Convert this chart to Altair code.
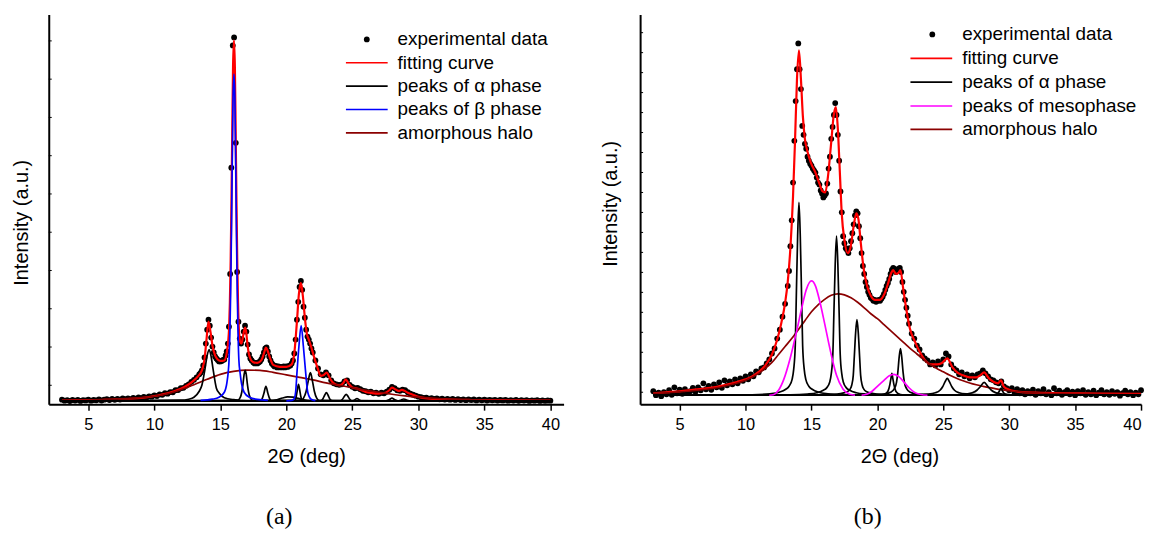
import altair as alt
import pandas as pd

FONT = "Liberation Sans"
X_TICKS = [5, 10, 15, 20, 25, 30, 35, 40]

# ======================= PANEL (a) =======================
fit_a_x = [3, 4, 5, 6, 7, 8, 9, 10, 10.5, 11, 11.5, 12,
           12.5, 13, 13.3, 13.6, 13.8, 13.95, 14.1, 14.25, 14.4, 14.6, 14.8, 15.0,
           15.3, 15.5, 15.6, 15.66, 15.72, 15.78, 15.84, 15.9, 15.96, 16.03, 16.1, 16.16,
           16.22, 16.28, 16.34, 16.4, 16.5, 16.6, 16.7, 16.8, 16.88, 16.96, 17.04, 17.14,
           17.26, 17.45, 17.8, 18.1, 18.3, 18.45, 18.6, 18.8, 19.0, 19.5, 20.0, 20.4,
           20.6, 20.8, 20.95, 21.1, 21.25, 21.4, 21.55, 21.7, 21.85, 22.0, 22.2, 22.4,
           22.6, 22.8, 23.05, 23.3, 23.5, 23.8, 24.05, 24.3, 24.5, 24.7, 25.0, 25.35,
           25.6, 26.0, 26.5, 27.0, 27.5, 27.8, 28.0, 28.25, 28.5, 28.75, 28.95, 29.2,
           29.5, 30.0, 30.7, 32, 34, 36, 38, 40]
fit_a_y = [0.5, 0.8, 1.0, 1.2, 1.5, 2.2, 3.2, 5.2, 6.5, 8, 10, 12.5,
           16, 21, 25, 31, 42, 62, 80, 70, 56, 46, 42, 40.5,
           41, 50, 61, 73, 99, 141, 201, 271, 336, 363, 336, 271,
           201, 141, 99, 73, 60, 58, 64, 71, 74, 69, 59, 49,
           43, 39.5, 38.5, 41, 48, 54, 50, 42, 36.5, 34.5, 34.5, 37,
           48, 80, 108, 119, 106, 84, 68, 62, 56, 49, 40, 32,
           25.5, 26, 28.7, 23, 19, 16.5, 16, 18, 22, 18, 13.8, 12.8,
           11.5, 9.3, 8.2, 7.7, 8.5, 11, 13.7, 12, 10.3, 11.3, 10.5, 8.5,
           7, 4.3, 2.7, 1.8, 1.2, 1.0, 0.8, 0.6]

halo_a_x = [3, 5, 7, 9, 10, 11, 12, 13, 14, 15, 16, 17, 18, 19, 20, 21, 22, 23, 24, 25,
            26, 27, 28, 29, 30, 31, 32, 34, 37, 40]
halo_a_y = [0.5, 1, 2, 3.5, 5, 7.5, 11.5, 16.5, 22, 27, 30, 31.3, 31, 29, 26.5, 24, 21.5, 18.5, 16, 13.5,
            11, 9, 7, 5.3, 4, 3, 2.2, 1.3, 0.8, 0.5]

# peaks of alpha phase (a)
alpha_a = [
    ([3, 12.0, 12.6, 13.0, 13.4, 13.6, 13.83, 14.0, 14.15, 14.3, 14.45, 14.7, 14.92, 15.3, 16.0, 17.0, 40],
     [0, 1, 2, 4, 10, 16, 32, 46, 52, 45, 32, 13, 8, 3.5, 1.5, 0.6, 0]),
    ([3, 16.3, 16.5, 16.62, 16.72, 16.8, 16.88, 16.96, 17.04, 17.14, 17.26, 17.45, 40],
     [0, 0.8, 3.5, 9, 18, 27, 31, 27, 18, 9, 3.5, 0.8, 0]),
    ([3, 18.0, 18.15, 18.3, 18.45, 18.6, 18.75, 18.9, 40],
     [0, 0.3, 2, 8, 15, 8, 2, 0.3, 0]),
    ([3, 18.8, 19.3, 19.7, 20.1, 20.5, 20.9, 21.3, 21.8, 40],
     [0, 0.3, 1.5, 3.2, 4.3, 4, 2.8, 1.3, 0.3, 0]),
    ([3, 20.65, 20.75, 20.84, 20.92, 21.0, 21.09, 21.2, 40],
     [0, 0.5, 5, 12, 17, 12, 5, 0.5, 0]),
    ([3, 21.1, 21.3, 21.5, 21.65, 21.82, 21.98, 22.12, 22.3, 22.5, 40],
     [0, 0.5, 3, 10, 20, 28.7, 20, 10, 3, 0.5, 0]),
    ([3, 22.6, 22.75, 22.9, 23.03, 23.16, 23.3, 23.5, 40],
     [0, 0.3, 2, 6, 8.7, 6, 2, 0.3, 0]),
    ([3, 24.1, 24.25, 24.4, 24.53, 24.66, 24.8, 24.95, 40],
     [0, 0.3, 2, 5, 7, 5, 2, 0.3, 0]),
    ([3, 25.0, 25.2, 25.35, 25.5, 25.7, 40],
     [0, 0.2, 1.5, 2.7, 1.5, 0.2, 0]),
    ([3, 27.5, 27.8, 28.0, 28.2, 28.5, 40],
     [0, 0.2, 1.5, 3, 1.5, 0.2, 0]),
    ([3, 28.4, 28.7, 28.9, 29.1, 29.4, 40],
     [0, 0.2, 1.2, 2.2, 1.2, 0.2, 0]),
]

# peaks of beta phase (a)
beta_a = [
    ([13.5, 14.4, 14.9, 15.3, 15.5, 15.6, 15.66, 15.72, 15.78, 15.84, 15.9, 15.96, 16.03,
      16.1, 16.16, 16.22, 16.28, 16.34, 16.4, 16.5, 16.6, 16.8, 17.2, 17.8, 18.6],
     [0.8, 2, 4, 9, 19, 30, 42, 68, 110, 170, 240, 305, 329,
      305, 240, 170, 110, 68, 42, 28, 18, 9, 4, 1.8, 0.8]),
    ([20.0, 20.4, 20.57, 20.7, 20.82, 20.95, 21.12, 21.29, 21.44, 21.62, 21.87, 22.2],
     [0.3, 0.8, 2, 9, 32, 55, 76, 55, 32, 9, 2, 0.5]),
]

# experimental data (a)
exp_a_x1 = [3.0, 3.2, 3.4, 3.6, 3.8, 4.0, 4.2, 4.4, 4.6, 4.8,
            5.0, 5.2, 5.4, 5.6, 5.8, 6.0, 6.2, 6.4, 6.6, 6.8,
            7.0, 7.2, 7.4, 7.6, 7.8, 8.0, 8.2, 8.4, 8.6, 8.8,
            9.0, 9.2, 9.4, 9.6, 9.8, 10.0, 10.2, 10.4, 10.6, 10.8,
            11.0, 11.2, 11.4, 11.6, 11.8, 12.0, 12.2, 12.4, 12.6, 12.8,
            13.0, 13.2, 13.4]
exp_a_y1 = [1.5, 0.5, 1.0, 0.2, 1.2, 0.6, 1.4, 0.3, 1.1, 0.8,
            1.6, 0.5, 1.2, 0.9, 1.8, 0.7, 1.5, 2.0, 1.1, 2.2,
            1.4, 2.4, 1.6, 2.8, 2.0, 2.9, 2.1, 3.2, 2.6, 3.8,
            3.0, 4.2, 3.6, 4.8, 4.5, 5.8, 5.2, 6.8, 6.4, 8.0,
            7.6, 9.2, 9.0, 11.0, 11.2, 13.0, 13.5, 15.5, 17.0, 19.5,
            21.5, 24.0, 27.0]
exp_a_x2 = [13.5, 13.6, 13.7, 13.8, 13.9, 14.0, 14.1, 14.2, 14.3, 14.4, 14.5, 14.6, 14.7, 14.8, 14.9,
            15.0, 15.1, 15.2, 15.3, 15.4, 15.48, 15.57, 15.65, 15.74, 15.83, 15.94, 16.04, 16.17,
            16.27, 16.37, 16.47, 16.57, 16.67, 16.77, 16.87, 16.97, 17.07, 17.17, 17.27, 17.37]
exp_a_y2 = [28.5, 31, 36, 44, 58, 72, 82, 76, 64, 55, 49, 45, 43, 41.5, 40,
            40, 40.5, 41.5, 42, 46, 50, 58, 75, 128, 235, 358, 366, 260,
            130, 80, 63, 58, 62, 70, 76, 70, 57, 47, 43, 41]
exp_a_x3 = [17.5, 17.6, 17.7, 17.8, 17.9, 18.0, 18.1, 18.2, 18.3, 18.4,
            18.5, 18.6, 18.7, 18.8, 18.9, 19.0, 19.1, 19.2, 19.3, 19.4,
            19.5, 19.6, 19.7, 19.8, 19.9, 20.0, 20.1, 20.2, 20.3, 20.4,
            20.5, 20.6, 20.7, 20.8, 20.9, 21.0, 21.1, 21.2, 21.3, 21.4,
            21.5, 21.6, 21.7, 21.8, 21.9, 22.0]
exp_a_y3 = [39, 38, 38.5, 38, 39, 40, 42, 45, 49, 53,
            54, 50, 45, 41, 38, 36.5, 35, 35.5, 34, 35,
            34, 34.5, 34, 35, 34, 35, 34.5, 35.5, 36, 38,
            41, 48, 62, 82, 100, 115, 121, 112, 95, 84,
            72, 65, 62, 58, 53, 49]
exp_a_x4 = [22.2, 22.4, 22.6, 22.8, 23.0, 23.2, 23.4, 23.6, 23.8, 24.0,
            24.2, 24.4, 24.6, 24.8, 25.0, 25.2, 25.4, 25.6, 25.8, 26.0,
            26.2, 26.4, 26.6, 26.8, 27.0, 27.2, 27.4, 27.6, 27.8, 28.0,
            28.2, 28.4, 28.6, 28.8, 29.0, 29.2, 29.4, 29.6, 29.8, 30.0,
            30.2, 30.4, 30.6, 30.8, 31.0, 31.2, 31.4, 31.6, 31.8, 32.0,
            32.2, 32.4, 32.6, 32.8, 33.0, 33.2, 33.4, 33.6, 33.8, 34.0,
            34.2, 34.4, 34.6, 34.8, 35.0, 35.2, 35.4, 35.6, 35.8, 36.0,
            36.2, 36.4, 36.6, 36.8, 37.0, 37.2, 37.4, 37.6, 37.8, 38.0,
            38.2, 38.4, 38.6, 38.8, 39.0, 39.2, 39.4, 39.6, 39.8, 40.0]
exp_a_y4 = [41, 33, 27, 26, 29, 26, 21, 18, 17, 16.5,
            17, 20, 21, 16.5, 14.5, 13, 13.5, 12, 10.5, 10,
            9, 9.5, 8, 8.5, 7.5, 8.5, 8, 9.5, 11.5, 14.5,
            13, 11, 10.5, 11.5, 11, 9, 7.5, 6.5, 5.5, 4.5,
            4.0, 3.2, 3.5, 2.6, 3.0, 2.2, 2.8, 1.9, 2.6, 1.6,
            2.4, 1.5, 2.2, 1.3, 2.0, 1.2, 1.9, 1.0, 1.8, 1.1,
            1.7, 0.8, 1.6, 0.9, 1.5, 0.7, 1.4, 0.9, 1.3, 0.6,
            1.2, 0.8, 1.3, 0.5, 1.1, 0.6, 1.2, 0.4, 1.0, 0.6,
            1.1, 0.3, 0.9, 0.5, 1.0, 0.3, 0.8, 0.4, 0.7, 0.5]

yticks_a = [16, 54.5, 93, 131.5, 170, 208.5, 247, 285.5, 324, 362.5]

# ======================= PANEL (b) =======================
fit_b_x = [3, 4, 5, 6, 7, 8, 9, 10, 10.5, 11, 11.5, 12,
           12.4, 12.7, 13.0, 13.2, 13.4, 13.6, 13.75, 13.9, 14.05, 14.2, 14.35, 14.5,
           14.7, 14.95, 15.3, 15.6, 15.85, 16.05, 16.25, 16.5, 16.7, 16.85, 17.0, 17.15,
           17.3, 17.5, 17.75, 17.95, 18.2, 18.4, 18.55, 18.75, 18.95, 19.2, 19.5, 19.8,
           20.2, 20.5, 20.8, 21.05, 21.2, 21.4, 21.6, 21.75, 21.95, 22.2, 22.45, 22.85,
           23.2, 23.7, 24.1, 24.5, 24.9, 25.3, 25.7, 26.1, 26.5, 27.0, 27.5, 27.8,
           28.1, 28.45, 28.8, 29.15, 29.37, 29.6, 30, 30.5, 31, 32, 34, 37,
           40]
fit_b_y = [2, 3, 4, 5.5, 7, 9, 12, 16, 19, 23.5, 30, 41,
           56, 72, 93, 114, 148, 200, 255, 318, 347, 318, 280, 258,
           245, 234, 224, 213, 205, 204, 220, 255, 283, 290, 268, 225,
           182, 156, 143, 148, 170, 183, 178, 152, 128, 111, 100, 96,
           96, 101, 112, 123, 126, 122, 123, 126, 108, 86, 68, 54,
           44, 34, 31, 31, 32.5, 37, 28, 22.5, 20, 18, 18, 20,
           23, 17, 13.5, 12, 15, 8.5, 5.5, 4, 3.2, 2.6, 2, 1.7,
           1.5]

halo_b_x = [3, 4, 5, 6, 7, 8, 9, 10,
            11, 11.5, 12, 12.5, 13, 13.5, 14, 14.5, 15, 15.5,
            16, 16.5, 17, 17.5, 18, 18.5, 19, 19.5, 20, 20.5,
            21, 21.5, 22, 22.5, 23, 23.5, 24, 24.5, 25, 25.5,
            26, 26.5, 27, 27.5, 28, 28.5, 29, 29.5, 30,
            31, 32, 34, 37, 40]
halo_b_y = [1.8, 2.5, 3.4, 4.5, 6, 8, 11, 15,
            22, 27, 33, 41, 49, 57, 66, 75, 84, 91,
            96.5, 100.5, 102, 101, 98, 93.5, 88, 82, 77, 71,
            65, 59, 53, 47, 41.5, 36, 31, 27, 23.5, 20,
            17, 14.5, 12.3, 10.5, 9, 7.6, 6.4, 5.4, 4.5,
            3.2, 2.4, 1.5, 1.0, 0.7]

# peaks of alpha phase (b)
alpha_b = [
    ([3, 10.5, 11.85, 12.55, 13.05, 13.3, 13.53, 13.65, 13.77, 13.85, 13.95, 14.05, 14.15, 14.25,
      14.33, 14.45, 14.57, 14.8, 15.05, 15.55, 16.25, 17.55, 40],
     [0, 0.5, 1.5, 3, 6, 9, 16, 26, 50, 100, 160, 194, 160, 100,
      50, 26, 16, 9, 6, 3, 1.5, 0.5, 0]),
    ([3, 13.4, 14.7, 15.4, 15.9, 16.15, 16.38, 16.5, 16.62, 16.7, 16.8, 16.9, 17.0, 17.1,
      17.18, 17.3, 17.42, 17.65, 17.9, 18.4, 19.1, 20.4, 40],
     [0, 0.4, 1.2, 2.5, 5, 7.4, 13, 21.5, 41, 82, 132, 160, 132, 82,
      41, 21.5, 13, 7.4, 5, 2.5, 1.2, 0.4, 0]),
    ([3, 14.95, 16.25, 16.95, 17.45, 17.7, 17.93, 18.05, 18.17, 18.25, 18.35, 18.45, 18.55, 18.65,
      18.73, 18.85, 18.97, 19.2, 19.45, 19.95, 20.65, 21.95, 40],
     [0, 0.2, 0.6, 1.1, 2.4, 3.5, 6.2, 10, 20, 39, 63, 76, 63, 39,
      20, 10, 6.2, 3.5, 2.4, 1.1, 0.6, 0.2, 0]),
    ([3, 20.3, 20.6, 20.8, 20.95, 21.03, 21.1, 21.17, 21.25, 21.4, 21.6, 21.9, 40],
     [0, 0.5, 1.5, 4, 11, 17, 22, 17, 11, 4, 1.5, 0.5, 0]),
    ([3, 19.5, 20.5, 21.0, 21.3, 21.45, 21.55, 21.65, 21.75, 21.85, 21.95, 22.05, 22.2, 22.5, 23.0, 24.0, 40],
     [0, 0.4, 1.2, 3, 7, 13, 23, 38, 47, 38, 23, 13, 7, 3, 1.2, 0.4, 0]),
    ([3, 22.5, 23.8, 24.4, 24.75, 24.95, 25.15, 25.3, 25.45, 25.65, 25.85, 26.2, 26.8, 28.0, 40],
     [0, 0.4, 1.2, 2.5, 5, 8.5, 14, 17, 14, 8.5, 5, 2.5, 1.2, 0.4, 0]),
    ([3, 25.5, 26.6, 27.2, 27.55, 27.8, 28.1, 28.4, 28.65, 29.0, 29.6, 30.7, 40],
     [0, 0.3, 1, 2.5, 5, 8.5, 13, 8.5, 5, 2.5, 1, 0.3, 0]),
    ([3, 28.8, 29.1, 29.25, 29.37, 29.5, 29.65, 30.0, 40],
     [0, 0.4, 1.5, 4, 7, 4, 1.5, 0.4, 0]),
]

# peaks of mesophase (b)
meso_b = [
    ([11.8, 12.1, 12.5, 12.9, 13.4, 13.9, 14.3, 14.6, 15.0, 15.3, 15.6, 16.0, 16.3, 16.6, 16.9, 17.4, 17.9, 18.3],
     [0, 0.5, 5, 16, 38, 66, 90, 106, 115, 110, 96, 72, 53, 35, 20, 6, 1, 0]),
    ([18.8, 19.2, 19.6, 20.0, 20.5, 20.9, 21.25, 21.6, 22.0, 22.4, 22.8, 23.3, 23.8],
     [0, 1, 4, 9, 15, 19.5, 21, 19, 13.5, 7.5, 3, 0.7, 0]),
]

# experimental data (b)
exp_b_x1 = [3.0, 3.2, 3.4, 3.6, 3.8, 4.0, 4.2, 4.4, 4.6, 4.8,
            5.0, 5.2, 5.4, 5.6, 5.8, 6.0, 6.2, 6.4, 6.6, 6.8,
            7.0, 7.2, 7.4, 7.6, 7.8, 8.0, 8.2, 8.4, 8.6, 8.8,
            9.0, 9.2, 9.4, 9.6, 9.8, 10.0, 10.2, 10.4, 10.6, 10.8,
            11.0, 11.2, 11.4, 11.6, 11.8, 12.0, 12.2, 12.4, 12.6, 12.8,
            13.0, 13.2]
exp_b_y1 = [4, 0, 2.5, -1, 3, 1, 5, 0.5, 8, 2,
            5.5, 1.5, 6, 3, 4, 7.5, 3.5, 8, 5, 12,
            6, 9.5, 5.5, 11, 8, 13, 7.5, 15, 10, 14,
            11, 16, 12, 17, 14.5, 19, 16, 21, 19, 24,
            23, 27, 28, 32, 36, 42, 47, 57, 66, 79,
            92, 110]
exp_b_x2 = [13.3, 13.4, 13.5, 13.6, 13.7, 13.8, 13.9, 14.0, 14.1, 14.2,
            14.3, 14.4, 14.5, 14.6, 14.7, 14.8, 14.9, 15.0, 15.1, 15.2,
            15.3, 15.4, 15.5, 15.6, 15.7, 15.8, 15.9, 16.0, 16.1, 16.2,
            16.3, 16.4, 16.5, 16.6, 16.7, 16.8, 16.9, 17.0, 17.1, 17.2,
            17.3, 17.4, 17.5, 17.6, 17.7, 17.8, 17.9, 18.0, 18.1, 18.2,
            18.3, 18.4, 18.5, 18.6, 18.7, 18.8, 18.9, 19.0, 19.1, 19.2,
            19.3, 19.4, 19.5, 19.6, 19.7, 19.8, 19.9, 20.0, 20.1, 20.2,
            20.3, 20.4, 20.5, 20.6, 20.7, 20.8, 20.9, 21.0, 21.1, 21.2,
            21.3, 21.4, 21.5, 21.6, 21.7, 21.8, 21.9, 22.0, 22.1, 22.2,
            22.3, 22.4]
exp_b_y2 = [125, 150, 176, 214, 256, 296, 328, 354, 328, 308,
            271, 262, 253, 248, 240, 236, 233, 231, 228, 226,
            224, 219, 214, 212, 206, 203, 199, 201, 203, 213,
            228, 240, 258, 270, 282, 294, 282, 262, 236, 205,
            184, 160, 153, 148, 146, 143, 148, 155, 163, 172,
            181, 185, 183, 170, 158, 143, 130, 122, 114, 109,
            104, 101, 98, 97, 95, 96, 94, 95, 96, 95,
            97, 99, 102, 106, 110, 113, 117, 122, 126, 128,
            127, 124, 125, 127, 128, 124, 114, 104, 96, 88,
            80, 72]
exp_b_x3 = [22.6, 22.8, 23.0, 23.2, 23.4, 23.6, 23.8, 24.0, 24.2, 24.4,
            24.6, 24.8, 25.0, 25.2, 25.4, 25.6, 25.8, 26.0, 26.2, 26.4,
            26.6, 26.8, 27.0, 27.2, 27.4, 27.6, 27.8, 28.0, 28.2, 28.4,
            28.6, 28.8, 29.0, 29.2, 29.4, 29.6, 29.8, 30.0, 30.2, 30.4,
            30.6, 30.8, 31.0, 31.2, 31.4, 31.6, 31.8, 32.0, 32.2, 32.4,
            32.6, 32.8, 33.0, 33.2, 33.4, 33.6, 33.8, 34.0, 34.2, 34.4,
            34.6, 34.8, 35.0, 35.2, 35.4, 35.6, 35.8, 36.0, 36.2, 36.4,
            36.6, 36.8, 37.0, 37.2, 37.4, 37.6, 37.8, 38.0, 38.2, 38.4,
            38.6, 38.8, 39.0, 39.2, 39.4, 39.6, 39.8, 40.0]
exp_b_y3 = [62, 57, 50, 46, 40, 37, 35, 31, 33, 30,
            34, 31, 36, 42, 39, 31, 27, 25, 21, 23,
            19, 21, 17, 20, 18, 21, 22, 25, 22, 19,
            16, 15, 13, 12, 14, 9, 7, 5, 7, 3,
            6, 2, 5, 1, 4, 2, 5.5, 0.5, 4, 2,
            6, 1, 3, 0, 7, 2, 4.5, 0.5, 3, 5,
            1, 3.5, 0, 4, 2, 5, 0.5, 3, 1, 4.5,
            0, 2.5, 5, 1, 3, 0.5, 4, 1.5, 3, -0.5,
            2, 4.5, 1, 3, 0, 2.5, 1, 5]

yticks_b = [3, 23.1, 43.2, 63.3, 83.4, 103.5, 123.6, 143.7, 163.8, 183.9,
            204, 224.1, 244.2, 264.3, 284.4, 304.5, 324.6, 344.7, 364.8]

legend_a = [("experimental data", "dot", "black"),
            ("fitting curve", "line", "#ff0000"),
            ("peaks of α phase", "line", "black"),
            ("peaks of β phase", "line", "#0000ff"),
            ("amorphous halo", "line", "#8b0000")]
legend_b = [("experimental data", "dot", "black"),
            ("fitting curve", "line", "#ff0000"),
            ("peaks of α phase", "line", "black"),
            ("peaks of mesophase", "line", "#ff00ff"),
            ("amorphous halo", "line", "#8b0000")]


# ======================= helpers =======================
def xy(xs, ys, key=0):
    assert len(xs) == len(ys), (len(xs), len(ys), xs[:3])
    return pd.DataFrame({"x": xs, "y": ys, "k": key})


def multi(peaks):
    return pd.concat([xy(px, py, i) for i, (px, py) in enumerate(peaks)], ignore_index=True)


ONE = pd.DataFrame({"d": [0]})
DOT = 34


def panel(dots, fit, halo, alpha, second, second_color, yticks, legend, cfg):
    xscale = alt.Scale(domain=cfg["xdom"], nice=False, zero=False)
    yscale = alt.Scale(domain=cfg["ydom"], nice=False, zero=False)
    xaxis_kw = dict(values=X_TICKS, format="d", title="2Θ (deg)", grid=False,
                    labelFont=FONT, labelFontSize=16.5, labelColor="black", labelPadding=6,
                    tickSize=6, tickWidth=1.5, tickColor="black",
                    domainColor="black", domainWidth=2,
                    titleFont=FONT, titleFontSize=20, titleFontWeight="normal",
                    titleColor="black", titlePadding=14, labelFlush=True)
    if "titleX" in cfg:
        xaxis_kw["titleX"] = cfg["titleX"]
    X = alt.X("x:Q", scale=xscale, axis=alt.Axis(**xaxis_kw))
    Y = alt.Y("y:Q", scale=yscale,
              axis=alt.Axis(labels=False, ticks=False, grid=False,
                            domainColor="black", domainWidth=2,
                            title="Intensity (a.u.)", titleFont=FONT, titleFontSize=20,
                            titleFontWeight="normal", titleColor="black",
                            titlePadding=cfg["ytp"], titleY=cfg["yty"]))

    layers = [
        alt.Chart(dots).mark_circle(size=DOT, color="black", opacity=1).encode(x=X, y=Y),
        alt.Chart(fit).mark_line(color="#ff0000", strokeWidth=2.2, interpolate="monotone").encode(x=X, y=Y),
        alt.Chart(halo).mark_line(color="#8b0000", strokeWidth=1.7, interpolate="monotone").encode(x=X, y=Y),
        alt.Chart(alpha).mark_line(color="black", strokeWidth=1.7, interpolate="monotone").encode(
            x=X, y=Y, detail="k:N"),
        alt.Chart(second).mark_line(color=second_color, strokeWidth=1.7, interpolate="monotone").encode(
            x=X, y=Y, detail="k:N"),
        alt.Chart(pd.DataFrame({"y": yticks})).mark_rule(color="black", strokeWidth=1).encode(
            y=Y, x=alt.value(0), x2=alt.value(3)),
    ]
    lx1, lx2, ldot, ltext = cfg["leg_x"]
    for (label, kind, color), ly in zip(legend, cfg["leg_y"]):
        if kind == "dot":
            layers.append(alt.Chart(ONE).mark_circle(size=DOT, color=color, opacity=1).encode(
                x=alt.value(ldot), y=alt.value(ly)))
        else:
            layers.append(alt.Chart(ONE).mark_rule(color=color, strokeWidth=1.7).encode(
                x=alt.value(lx1), x2=alt.value(lx2), y=alt.value(ly)))
        layers.append(alt.Chart(ONE).mark_text(align="left", baseline="middle", font=FONT,
                                               fontSize=19, color="black").encode(
            x=alt.value(ltext), y=alt.value(ly), text=alt.value(label)))
    layers.append(alt.Chart(ONE).mark_text(align="center", baseline="middle", font="Liberation Serif",
                                           fontSize=24, color="black").encode(
        x=alt.value(cfg["tag_x"]), y=alt.value(cfg["tag_y"]), text=alt.value(cfg["tag"])))
    return alt.layer(*layers).properties(width=cfg["w"], height=cfg["h"])


dots_a = pd.concat([xy(exp_a_x1, exp_a_y1), xy(exp_a_x2, exp_a_y2),
                    xy(exp_a_x3, exp_a_y3), xy(exp_a_x4, exp_a_y4)], ignore_index=True)
dots_b = pd.concat([xy(exp_b_x1, exp_b_y1), xy(exp_b_x2, exp_b_y2),
                    xy(exp_b_x3, exp_b_y3)], ignore_index=True)

pa = panel(dots_a, xy(fit_a_x, fit_a_y), xy(halo_a_x, halo_a_y), multi(alpha_a), multi(beta_a),
           "#0000ff", yticks_a, legend_a,
           dict(xdom=[2, 41], ydom=[-3, 389], w=518, h=392, ytp=17, yty=209,
                leg_x=(299, 341, 320, 351), leg_y=[25, 48.5, 72, 95.5, 119],
                tag="(a)", tag_x=232, tag_y=506))
pb = panel(dots_b, xy(fit_b_x, fit_b_y), xy(halo_b_x, halo_b_y), multi(alpha_b), multi(meso_b),
           "#ff00ff", yticks_b, legend_b,
           dict(xdom=[2, 40], ydom=[-9, 383], w=504, h=392, ytp=20, yty=190, titleX=261,
                leg_x=(272, 314, 294, 324), leg_y=[20, 44, 68, 92, 115.5],
                tag="(b)", tag_x=229, tag_y=506))

chart = alt.hconcat(pa, pb, spacing=37).configure_view(stroke=None).properties(
    padding={"left": 4, "top": 5, "right": 0, "bottom": 0})

chart.save("out.html", embed_options={"renderer": "svg", "actions": False})
